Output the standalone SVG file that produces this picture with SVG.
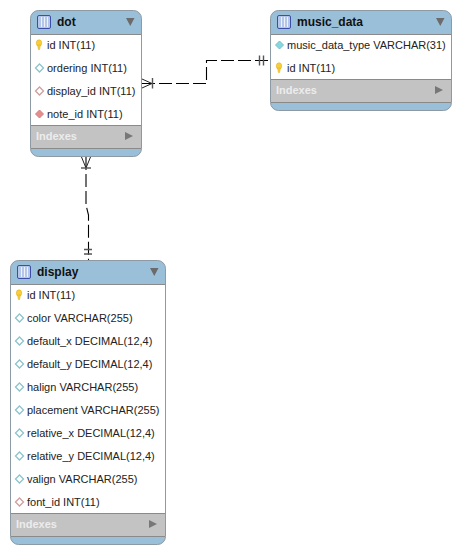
<svg xmlns="http://www.w3.org/2000/svg" width="461" height="554" viewBox="0 0 461 554">
<style>
.bg{fill:#9abfd9;stroke:#8e9aa3;stroke-width:1}
.body{fill:#fff}
.idx{fill:#c3c3c3}
.ln{stroke:#8a8a8a;stroke-width:1;fill:none}
.title{font:bold 12px "Liberation Sans",Arial,sans-serif;fill:#111}
.row{font:11px "Liberation Sans",Arial,sans-serif;fill:#222}
.ix{font:bold 11px "Liberation Sans",Arial,sans-serif;fill:#ececec}
.tri{fill:#6b6b6b}
.tri2{fill:#777}
.ic{fill:#b4c6ea;stroke:#3d4fa5;stroke-width:1}
.icl{stroke:#eef2fb;stroke-width:1}
.edge{fill:none;stroke:#000;stroke-width:1.1;stroke-dasharray:13 4}
.mark{fill:none;stroke:#222;stroke-width:1}
.bar{fill:none;stroke:#555;stroke-width:1.4}
.k{fill:#f6cf3a;stroke:#e3b520;stroke-width:.6}
.dw{fill:#fff;stroke:#8cc3ca;stroke-width:1.3}
.dc{fill:#86d8e0;stroke:#78c0c8;stroke-width:1}
.df{fill:#fff;stroke:#cf9f9f;stroke-width:1.3}
.dr{fill:#e58d8d;stroke:#d08080;stroke-width:1}
</style>
<defs>
<g id="ticon"><rect x="0.500" y="0.500" width="13" height="13" rx="1.500" class="ic"/><path class="icl" d="M4.500 2V12M7.500 2V12M10.500 2V12"/></g>
<g id="key"><ellipse cx="0" cy="-2" rx="2.700" ry="3.200" class="k"/><path d="M-1.400 0H1.400L.6 4.500H-.6Z" class="k"/></g>
<path id="d" d="M0 -4L4 0L0 4L-4 0Z"/>
</defs>
<g id="connectors">
<path class="edge" d="M142 83.500H206.500V60.500H270"/>
<path class="edge" d="M86 157V205L88.500 215V260"/>
<path class="mark" d="M142 79L152 83.500L142 88"/><path class="bar" d="M152.500 78V88.500"/>
<path class="bar" d="M259.500 55.500V65.500M263.500 55.500V65.500"/>
<path class="mark" d="M81.500 157L86 168L90.500 157"/><path class="bar" d="M81 168H91"/>
<path class="bar" d="M84 249.500H92M84 254H92"/>
</g>
<g id="dot">
<rect class="bg" x="30.500" y="10.500" width="111" height="146" rx="8"/>
<rect class="body" x="31" y="34" width="110" height="91"/>
<rect class="idx" x="31" y="125" width="110" height="23"/>
<path class="ln" d="M31 34.500H141M31 125.500H141M31 148.500H141"/>
<use href="#ticon" x="37" y="15"/>
<text class="title" x="57" y="26">dot</text>
<path class="tri" d="M126 18H134.500L130.250 26Z"/>
<use href="#key" x="39" y="45"/>
<text class="row" x="47" y="49">id INT(11)</text>
<use href="#d" x="39.500" y="68" class="dw"/>
<text class="row" x="47" y="72">ordering INT(11)</text>
<use href="#d" x="39.500" y="91" class="df"/>
<text class="row" x="47" y="95">display_id INT(11)</text>
<use href="#d" x="39.500" y="114" class="dr"/>
<text class="row" x="47" y="118">note_id INT(11)</text>
<text class="ix" x="36" y="140">Indexes</text>
<path class="tri2" d="M125 132L133 136L125 140Z"/>
</g>
<g id="music_data">
<rect class="bg" x="270.500" y="10.500" width="181" height="100" rx="8"/>
<rect class="body" x="271" y="34" width="180" height="45"/>
<rect class="idx" x="271" y="79" width="180" height="23"/>
<path class="ln" d="M271 34.500H451M271 79.500H451M271 102.500H451"/>
<use href="#ticon" x="277" y="15"/>
<text class="title" x="297" y="26">music_data</text>
<path class="tri" d="M436 18H444.500L440.250 26Z"/>
<use href="#d" x="279.500" y="45" class="dc"/>
<text class="row" x="287" y="49">music_data_type VARCHAR(31)</text>
<use href="#key" x="279" y="68"/>
<text class="row" x="287" y="72">id INT(11)</text>
<text class="ix" x="276" y="94">Indexes</text>
<path class="tri2" d="M435 86L443 90L435 94Z"/>
</g>
<g id="display">
<rect class="bg" x="10.500" y="260.500" width="155" height="284" rx="8"/>
<rect class="body" x="11" y="284" width="154" height="229"/>
<rect class="idx" x="11" y="513" width="154" height="23"/>
<path class="ln" d="M11 284.500H165M11 513.500H165M11 536.500H165"/>
<use href="#ticon" x="17" y="265"/>
<text class="title" x="37" y="276">display</text>
<path class="tri" d="M150 268H158.500L154.250 276Z"/>
<use href="#key" x="19" y="295"/>
<text class="row" x="27" y="299">id INT(11)</text>
<use href="#d" x="19.500" y="318" class="dw"/>
<text class="row" x="27" y="322">color VARCHAR(255)</text>
<use href="#d" x="19.500" y="341" class="dw"/>
<text class="row" x="27" y="345">default_x DECIMAL(12,4)</text>
<use href="#d" x="19.500" y="364" class="dw"/>
<text class="row" x="27" y="368">default_y DECIMAL(12,4)</text>
<use href="#d" x="19.500" y="387" class="dw"/>
<text class="row" x="27" y="391">halign VARCHAR(255)</text>
<use href="#d" x="19.500" y="410" class="dw"/>
<text class="row" x="27" y="414">placement VARCHAR(255)</text>
<use href="#d" x="19.500" y="433" class="dw"/>
<text class="row" x="27" y="437">relative_x DECIMAL(12,4)</text>
<use href="#d" x="19.500" y="456" class="dw"/>
<text class="row" x="27" y="460">relative_y DECIMAL(12,4)</text>
<use href="#d" x="19.500" y="479" class="dw"/>
<text class="row" x="27" y="483">valign VARCHAR(255)</text>
<use href="#d" x="19.500" y="502" class="df"/>
<text class="row" x="27" y="506">font_id INT(11)</text>
<text class="ix" x="16" y="528">Indexes</text>
<path class="tri2" d="M149 520L157 524L149 528Z"/>
</g>
</svg>
